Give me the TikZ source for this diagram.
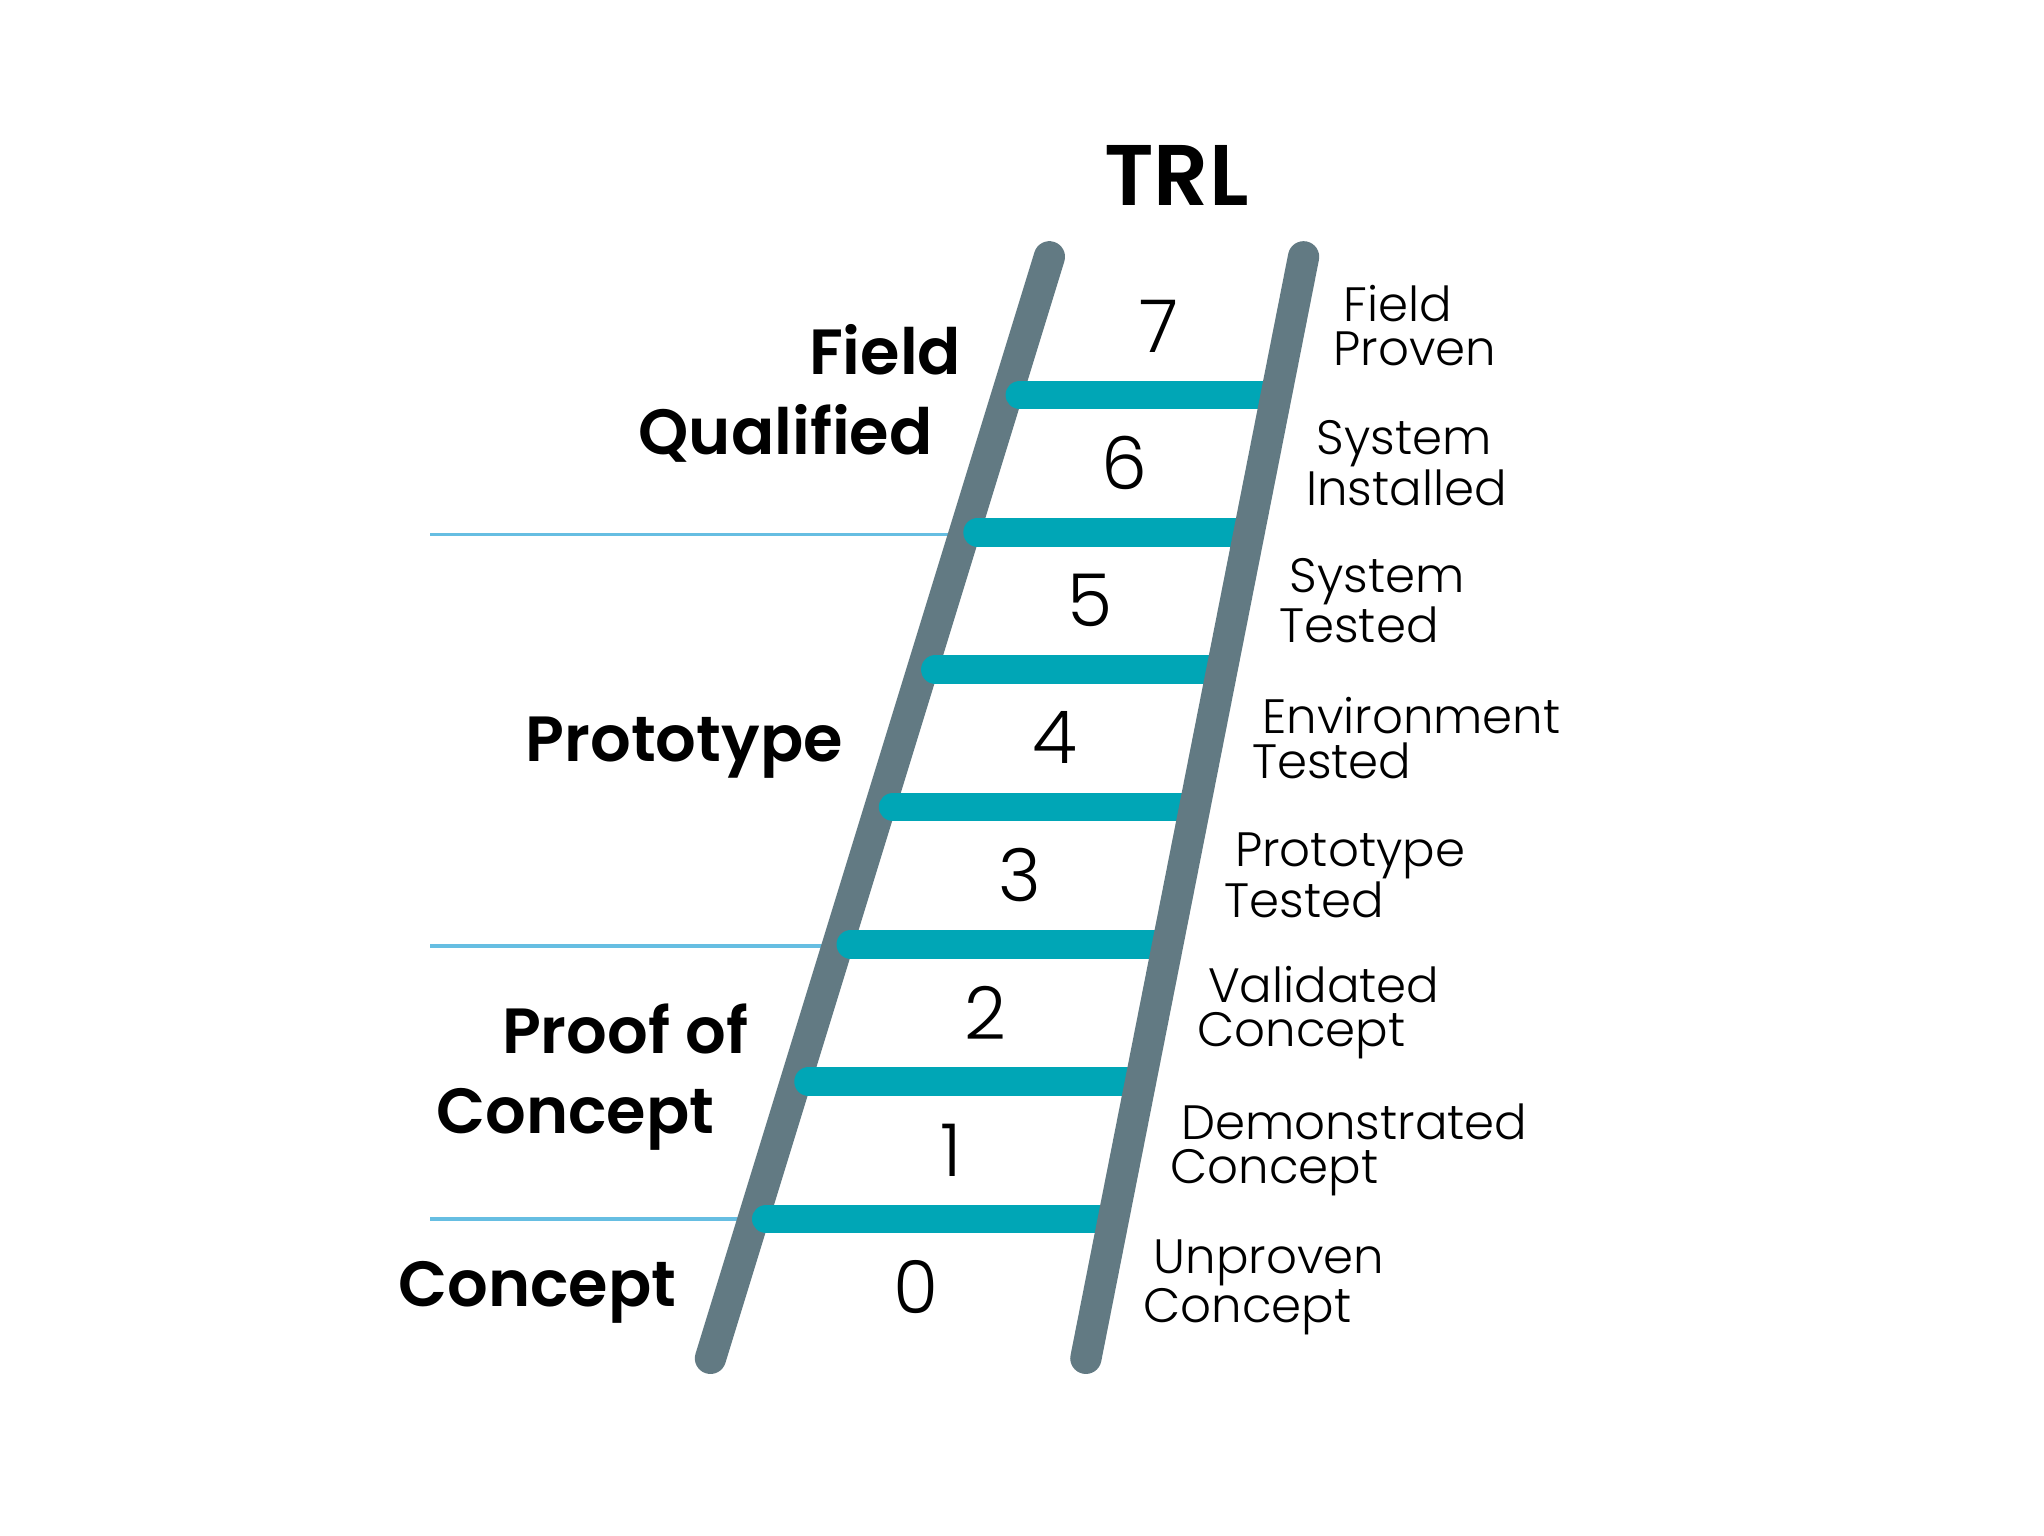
\documentclass[tikz,border=0pt]{standalone}
\usepackage{fontspec}
\usepackage{tikz}
\usetikzlibrary{calc,positioning}
\newfontfamily\lightsf{Poppins Light}
\newfontfamily\boldsf{Poppins SemiBold}
\definecolor{railgrey}{RGB}{98,122,131}
\definecolor{rungteal}{RGB}{0,166,182}
\definecolor{lineblue}{RGB}{102,190,226}
\tikzset{
    rail/.style = {draw=railgrey, line width=12pt, line cap=round},
    rung/.style = {draw=rungteal, line width=11pt, line cap=round},
    phase-line/.style = {draw=lineblue, line width=1.5pt},
    level-num/.style = {font=\lightsf\fontsize{28}{28}\selectfont, inner sep=0pt},
    level-text/.style = {font=\lightsf\fontsize{18.5}{17}\selectfont, align=left, inner sep=0pt, anchor=west},
    phase-text/.style = {font=\boldsf\fontsize{24.5}{30.5}\selectfont, align=right, inner sep=0pt},
    title/.style = {font=\boldsf\fontsize{33}{33}\selectfont, inner sep=0pt},
}

\begin{document}
\begin{tikzpicture}[x=0.5pt, y=-0.5pt]
\useasboundingbox (0,0) rectangle (1568,1178);
\coordinate (lt) at (805,197);
\coordinate (lb) at (545,1042);
\coordinate (rt) at (1000,197);
\coordinate (rb) at (833,1042);
\coordinate (margin) at (330,0);

% phase separators
\foreach \t [count=\i] in {0.2521,0.6260,0.8734} {
    \coordinate (sep\i) at ($(lt)!\t!(lb)$);
    \draw[phase-line] (margin |- sep\i) -- (sep\i);
}

% ladder
\draw[rail] (lt) -- (lb);
\foreach \k in {0,...,6} {
    \pgfmathsetmacro\t{0.1254+0.1247*\k}
    \coordinate (rl\k) at ($(lt)!\t!(lb)$);
    \coordinate (rr\k) at ($(rt)!\t!(rb)$);
    \draw[rung] ([xshift=5pt]rl\k) -- (rr\k);
}
\draw[rail] (rt) -- (rb);

\node[title, above=19.5pt] (trl) at ($(lt)!.5!(rt)$) {TRL};

% levels
\foreach \n/\lineA/\lineB in {7/Field/Proven, 6/System/Installed, 5/System/Tested,
        4/Environment/Tested, 3/Prototype/Tested, 2/Validated/Concept,
        1/Demonstrated/Concept, 0/Unproven/Concept} {
    \pgfmathsetmacro\t{0.0627+0.1247*(7-\n)}
    \coordinate (ml\n) at ($(lt)!\t!(lb)$);
    \coordinate (mr\n) at ($(rt)!\t!(rb)$);
    \node[level-num] (num\n) at ($(ml\n)!.5!(mr\n)$) {\n};
    \node[level-text] (lvl\n) at ($(mr\n)+(33,0)$) {\hspace*{4pt}\lineA\\\lineB};
}

% phases
\node[phase-text, anchor=east] (fq) at ($(lt)!0.124!(lb)+(-35,0)$) {Field\\Qualified\hspace*{11pt}};
\node[phase-text, anchor=base east] (proto) at ($(lt)!0.458!(lb)+(-39,0)$) {Prototype};
\node[phase-text, anchor=east] (poc) at ($(lt)!0.7444!(lb)+(-37,0)$) {Proof of\\Concept\hspace*{13pt}};
\node[phase-text, anchor=base east] (con) at ($(lt)!0.9527!(lb)+(-38,0)$) {Concept};
\end{tikzpicture}
\end{document}
